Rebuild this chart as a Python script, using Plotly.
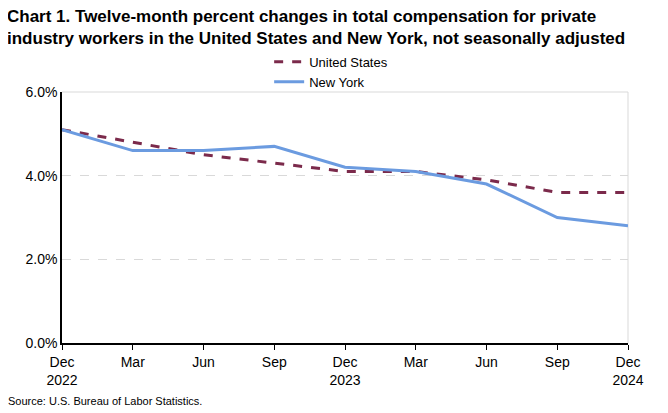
import plotly.graph_objects as go

# quarterly points, Dec 2022 .. Dec 2024
tick_labels = ["Dec<br>2022", "Mar", "Jun", "Sep", "Dec<br>2023", "Mar", "Jun", "Sep", "Dec<br>2024"]
united_states = [5.1, 4.8, 4.5, 4.3, 4.1, 4.1, 3.9, 3.6, 3.6]
new_york = [5.1, 4.6, 4.6, 4.7, 4.2, 4.1, 3.8, 3.0, 2.8]

x = list(range(len(tick_labels)))
font = "Liberation Sans, Arial, sans-serif"

fig = go.Figure()
fig.add_trace(go.Scatter(
    x=x, y=united_states, name="United States", mode="lines",
    line=dict(color="#7B2A4B", width=3, dash="dash"), cliponaxis=False,
))
fig.add_trace(go.Scatter(
    x=x, y=new_york, name="New York", mode="lines",
    line=dict(color="#6B9BE0", width=3), cliponaxis=False,
))

# page body has an 8px margin, so the figure is a bit smaller than the window
fig.update_layout(
    width=660, height=405,
    margin=dict(l=54, r=40, t=84, b=70, autoexpand=False),
    paper_bgcolor="white", plot_bgcolor="white",
    font=dict(family=font, size=14, color="black"),
    legend=dict(
        x=0.366, xanchor="left", y=0.904, yanchor="top", yref="container",
        bgcolor="rgba(0,0,0,0)", font=dict(size=13),
        tracegroupgap=0,
    ),
    xaxis=dict(
        range=[0, 8], tickvals=x, ticktext=tick_labels,
        showline=True, linecolor="black", linewidth=1.5,
        ticks="outside", ticklen=5, tickcolor="black",
        showgrid=False, zeroline=False, fixedrange=True, automargin=False,
    ),
    yaxis=dict(
        range=[0, 6], dtick=2, tickformat=".1f", ticksuffix="%",
        showline=True, linecolor="black", linewidth=1.5,
        gridcolor="#d9d9d9", griddash="dash", gridwidth=1,
        zeroline=False, ticks="", fixedrange=True, automargin=False,
    ),
    annotations=[
        dict(
            text="Chart 1. Twelve-month percent changes in total compensation for private<br>"
                 "industry workers in the United States and New York, not seasonally adjusted",
            xref="paper", yref="paper", x=-0.1, y=1.345,
            xanchor="left", yanchor="top", align="left", showarrow=False,
            font=dict(family=font, size=17, color="black", weight="bold"),
        ),
        dict(
            text="Source: U.S. Bureau of Labor Statistics.",
            xref="paper", yref="paper", x=-0.099, y=-0.262,
            xanchor="left", yanchor="bottom", showarrow=False,
            font=dict(family=font, size=11),
        ),
    ],
    shapes=[
        dict(type="line", xref="paper", yref="paper", x0=0, x1=1, y0=1, y1=1,
             line=dict(color="#d9d9d9", width=1), layer="below"),
        dict(type="line", xref="paper", yref="paper", x0=1, x1=1, y0=0, y1=1,
             line=dict(color="#d9d9d9", width=1), layer="below"),
    ],
)

fig.write_html("out.html")
